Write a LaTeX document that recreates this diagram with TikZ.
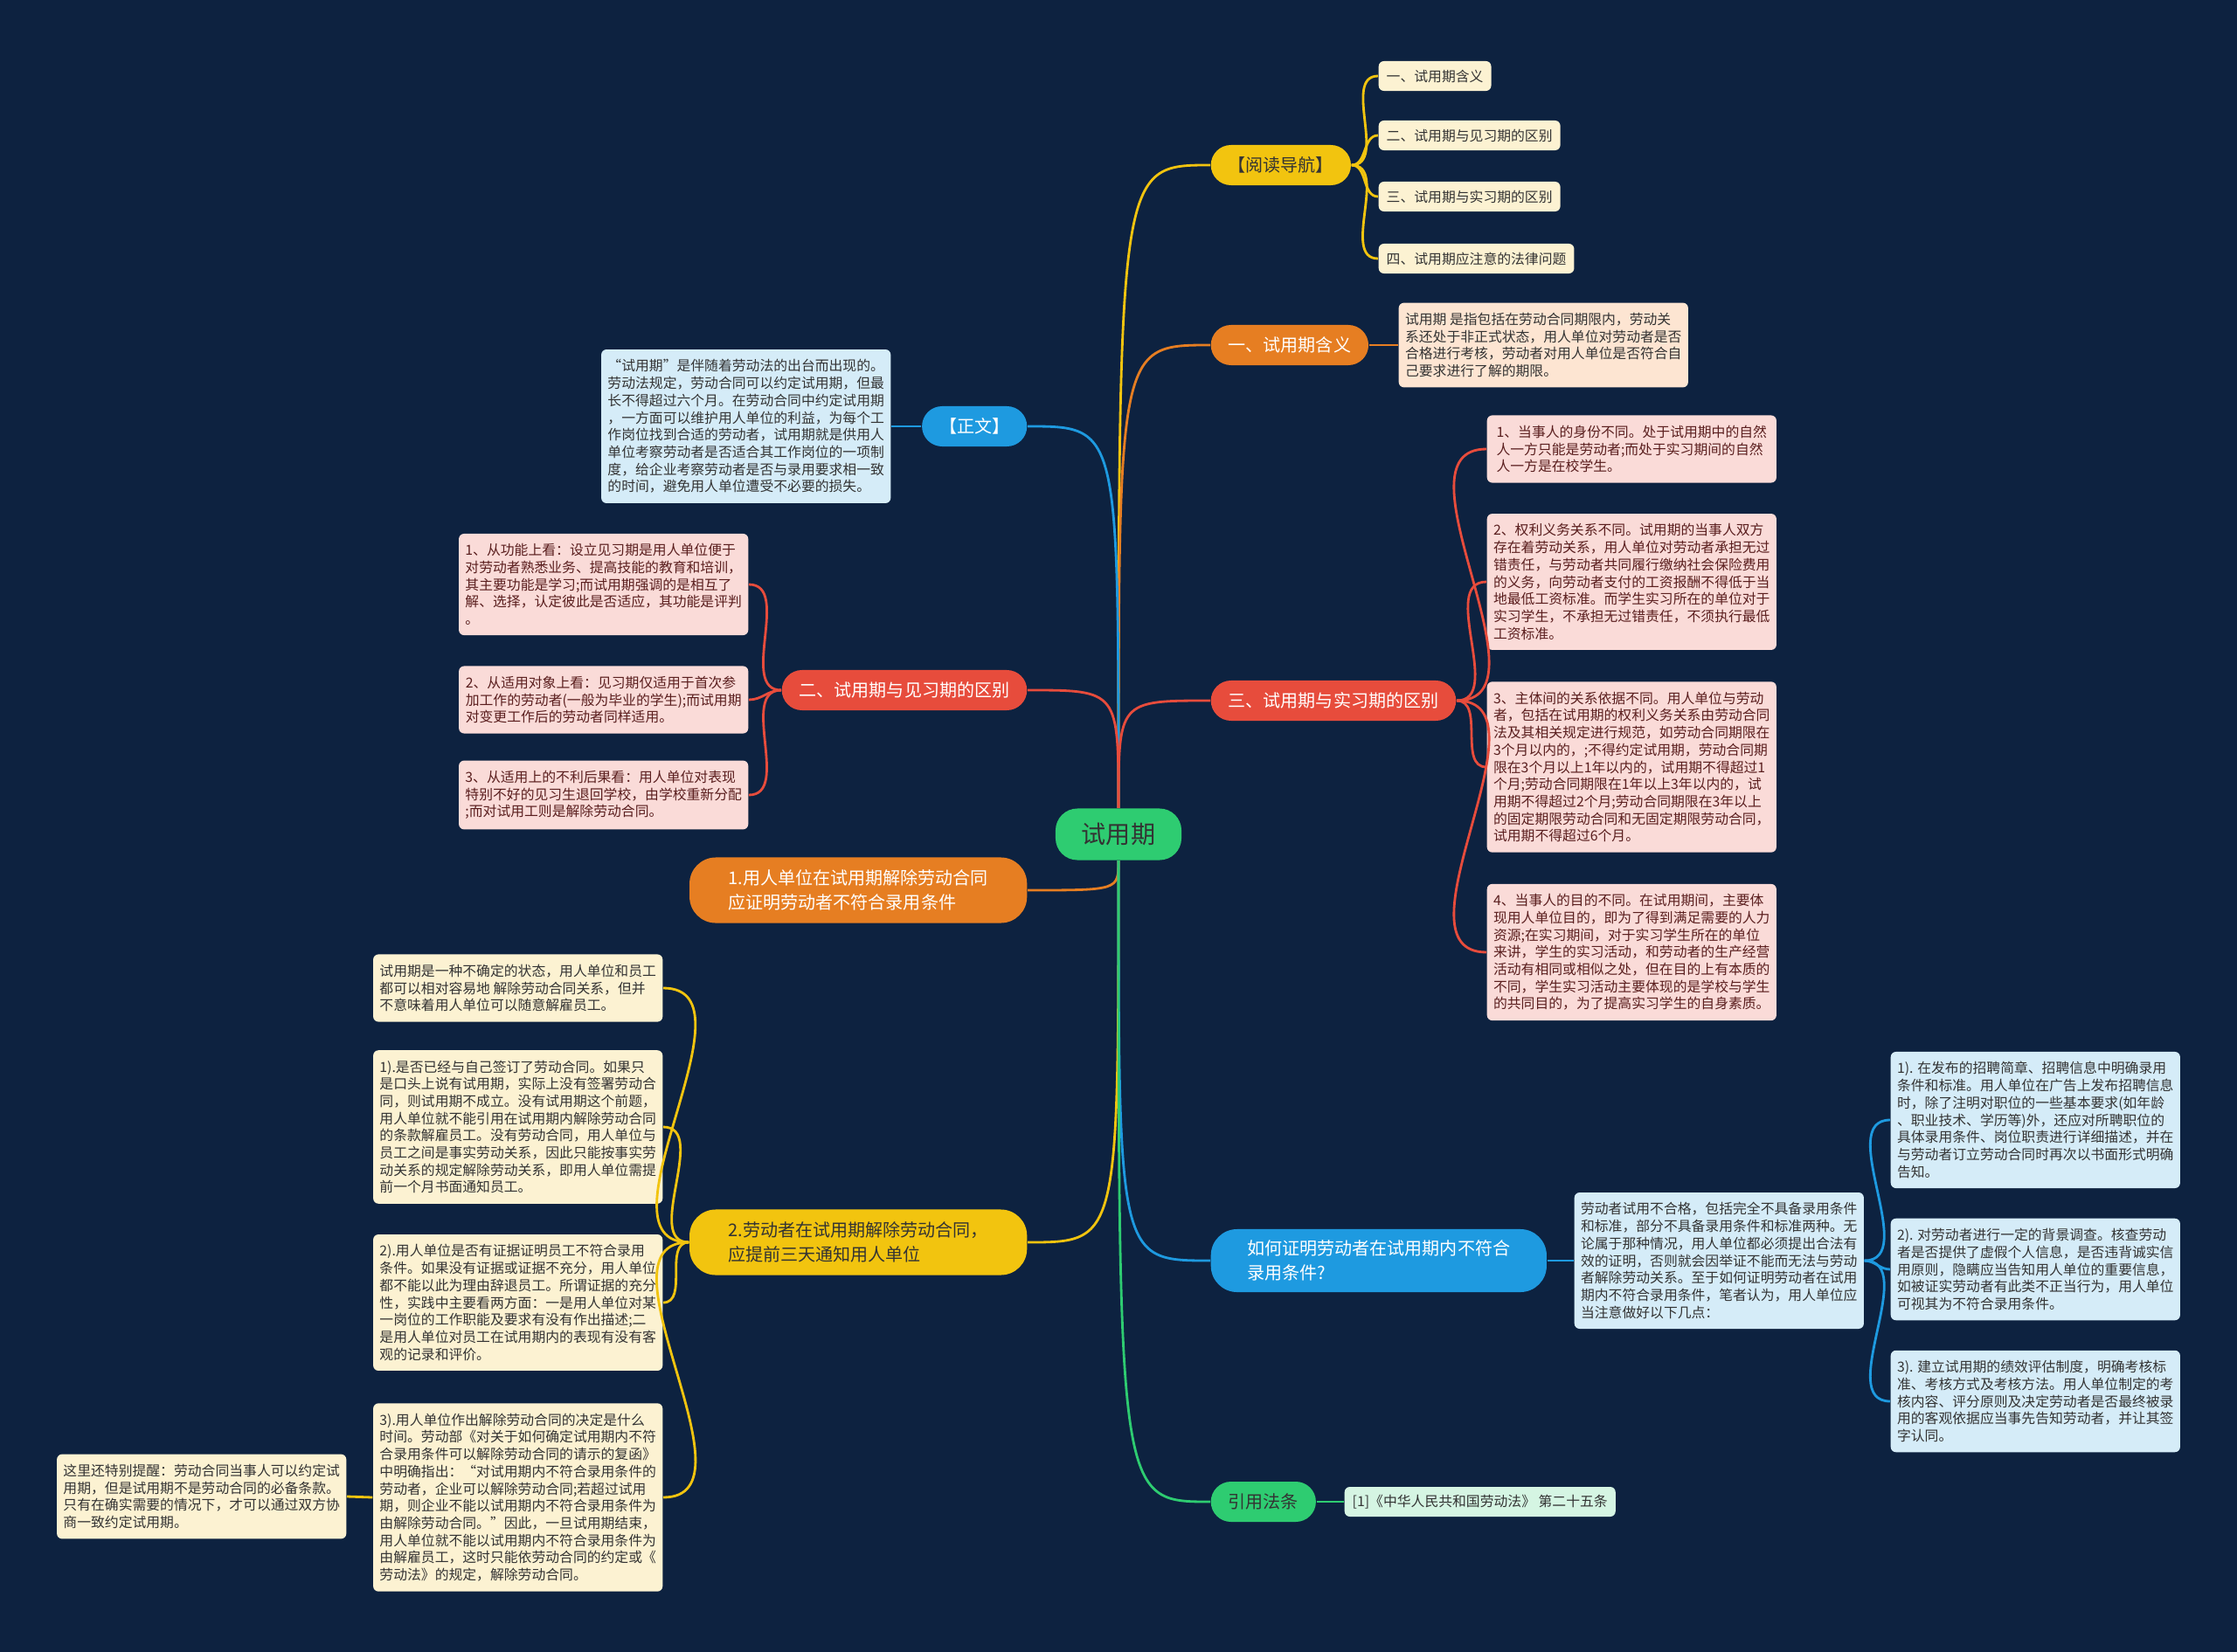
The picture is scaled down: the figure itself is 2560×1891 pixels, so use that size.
\documentclass[tikz,border=0pt]{standalone}
\usepackage{fontspec}
\setmainfont{Noto Sans CJK SC}
\usepackage{tikz}
\usetikzlibrary{calc}

\definecolor{bgnavy}{HTML}{0D2240}
\definecolor{hubgreen}{HTML}{2ECC71}
\definecolor{navyellow}{HTML}{F2C40F}
\definecolor{deforange}{HTML}{E67E22}
\definecolor{zwblue}{HTML}{1E9AE0}
\definecolor{jxred}{HTML}{E74C3C}
\definecolor{creamfill}{HTML}{FCF2D2}
\definecolor{peachfill}{HTML}{FDE5D2}
\definecolor{bluefill}{HTML}{D5ECF8}
\definecolor{pinkfill}{HTML}{FADBD8}
\definecolor{greenfill}{HTML}{D5F5E3}
\definecolor{leafink}{HTML}{333333}
\definecolor{pinkink}{HTML}{5A1E1E}

\newcommand{\leaffont}{\fontsize{4.5pt}{5.6pt}\selectfont}
\newcommand{\branchfont}{\fontsize{5.7pt}{8pt}\selectfont}
\newcommand{\hubfont}{\fontsize{8pt}{10pt}\selectfont}

\begin{document}
\begin{tikzpicture}[
  x=0.01cm, y=-0.01cm,
  hub/.style={fill=hubgreen, rounded corners=0.25cm, minimum width=1.44cm, minimum height=0.59cm, font=\hubfont, text=leafink},
  branch/.style={rounded corners=0.23cm, inner xsep=0.2cm, minimum height=0.46cm, font=\branchfont, text=white},
  twoline/.style={branch, align=left, rounded corners=0.3cm, minimum width=3.86cm, minimum height=0.75cm},
  leaf/.style={rounded corners=0.06cm, inner xsep=0.07cm, inner ysep=0.115cm, align=left, font=\leaffont, text=leafink},
  wide/.style={leaf, minimum width=3.31cm},
  tag/.style={leaf, inner xsep=0.09cm, inner ysep=0.08cm, minimum height=0.34cm},
  edge/.style={line width=0.8pt},
]

% background
\useasboundingbox (0,0) rectangle (2560,1891);
\fill[bgnavy] (0,0) rectangle (2560,1891);

% hub
\node[hub] (hub) at (1280,955) {试用期};

% branches right
\node[branch, fill=navyellow, text=leafink, anchor=west] (read) at (1385,189) {【阅读导航】};
\node[branch, fill=deforange, anchor=west] (def) at (1385,395) {一、试用期含义};
\node[branch, fill=jxred, anchor=west] (sx) at (1385,802) {三、试用期与实习期的区别};
\node[twoline, fill=zwblue, minimum width=3.84cm, minimum height=0.72cm, anchor=west] (how) at (1385,1443) {如何证明劳动者在试用期内不符合\\录用条件?};
\node[branch, fill=hubgreen, text=leafink, anchor=west] (law) at (1385,1719) {引用法条};

% branches left
\node[branch, fill=zwblue, anchor=east] (zw) at (1176,488) {【正文】};
\node[branch, fill=jxred, anchor=east] (jx) at (1176,790) {二、试用期与见习期的区别};
\node[twoline, fill=deforange, anchor=east] (quit) at (1176,1019) {1.用人单位在试用期解除劳动合同\\应证明劳动者不符合录用条件};
\node[twoline, fill=navyellow, text=leafink, anchor=east] (resign) at (1176,1422) {2.劳动者在试用期解除劳动合同，\\应提前三天通知用人单位};

% reading guide
\node[tag, fill=creamfill, anchor=west] (r1) at (1577,87) {一、试用期含义};
\node[tag, fill=creamfill, anchor=west] (r2) at (1577,155) {二、试用期与见习期的区别};
\node[tag, fill=creamfill, anchor=west] (r3) at (1577,225) {三、试用期与实习期的区别};
\node[tag, fill=creamfill, anchor=west] (r4) at (1577,296) {四、试用期应注意的法律问题};

% definition
\node[wide, fill=peachfill, anchor=west] (d1) at (1600,395) {试用期 是指包括在劳动合同期限内，劳动关\\系还处于非正式状态，用人单位对劳动者是否\\合格进行考核，劳动者对用人单位是否符合自\\己要求进行了解的期限。};

% main text
\node[wide, fill=bluefill, anchor=east] (z1) at (1020,488) {“试用期”是伴随着劳动法的出台而出现的。\\劳动法规定，劳动合同可以约定试用期，但最\\长不得超过六个月。在劳动合同中约定试用期\\，一方面可以维护用人单位的利益，为每个工\\作岗位找到合适的劳动者，试用期就是供用人\\单位考察劳动者是否适合其工作岗位的一项制\\度，给企业考察劳动者是否与录用要求相一致\\的时间，避免用人单位遭受不必要的损失。};

% probation vs traineeship
\node[wide, fill=pinkfill, text=pinkink, anchor=east] (j1) at (857,669) {1、从功能上看：设立见习期是用人单位便于\\对劳动者熟悉业务、提高技能的教育和培训，\\其主要功能是学习;而试用期强调的是相互了\\解、选择，认定彼此是否适应，其功能是评判\\。};
\node[wide, fill=pinkfill, text=pinkink, anchor=east] (j2) at (857,801) {2、从适用对象上看：见习期仅适用于首次参\\加工作的劳动者(一般为毕业的学生);而试用期\\对变更工作后的劳动者同样适用。};
\node[wide, fill=pinkfill, text=pinkink, anchor=east] (j3) at (857,910) {3、从适用上的不利后果看：用人单位对表现\\特别不好的见习生退回学校，由学校重新分配\\;而对试用工则是解除劳动合同。};

% probation vs internship
\node[wide, fill=pinkfill, text=pinkink, anchor=west] (s1) at (1701,514) {1、当事人的身份不同。处于试用期中的自然\\人一方只能是劳动者;而处于实习期间的自然\\人一方是在校学生。};
\node[wide, fill=pinkfill, text=pinkink, anchor=west] (s2) at (1701,666) {2、权利义务关系不同。试用期的当事人双方\\存在着劳动关系，用人单位对劳动者承担无过\\错责任，与劳动者共同履行缴纳社会保险费用\\的义务，向劳动者支付的工资报酬不得低于当\\地最低工资标准。而学生实习所在的单位对于\\实习学生，不承担无过错责任，不须执行最低\\工资标准。};
\node[wide, fill=pinkfill, text=pinkink, anchor=west] (s3) at (1701,878) {3、主体间的关系依据不同。用人单位与劳动\\者，包括在试用期的权利义务关系由劳动合同\\法及其相关规定进行规范，如劳动合同期限在\\3个月以内的，;不得约定试用期，劳动合同期\\限在3个月以上1年以内的，试用期不得超过1\\个月;劳动合同期限在1年以上3年以内的，试\\用期不得超过2个月;劳动合同期限在3年以上\\的固定期限劳动合同和无固定期限劳动合同，\\试用期不得超过6个月。};
\node[wide, fill=pinkfill, text=pinkink, anchor=west] (s4) at (1701,1090) {4、当事人的目的不同。在试用期间，主要体\\现用人单位目的，即为了得到满足需要的人力\\资源;在实习期间，对于实习学生所在的单位\\来讲，学生的实习活动，和劳动者的生产经营\\活动有相同或相似之处，但在目的上有本质的\\不同，学生实习活动主要体现的是学校与学生\\的共同目的，为了提高实习学生的自身素质。};

% resignation
\node[wide, fill=creamfill, anchor=east] (e1) at (759,1131) {试用期是一种不确定的状态，用人单位和员工\\都可以相对容易地 解除劳动合同关系，但并\\不意味着用人单位可以随意解雇员工。};
\node[wide, fill=creamfill, anchor=east] (e2) at (759,1290) {1).是否已经与自己签订了劳动合同。如果只\\是口头上说有试用期，实际上没有签署劳动合\\同，则试用期不成立。没有试用期这个前题，\\用人单位就不能引用在试用期内解除劳动合同\\的条款解雇员工。没有劳动合同，用人单位与\\员工之间是事实劳动关系，因此只能按事实劳\\动关系的规定解除劳动关系，即用人单位需提\\前一个月书面通知员工。};
\node[wide, fill=creamfill, anchor=east] (e3) at (759,1491) {2).用人单位是否有证据证明员工不符合录用\\条件。如果没有证据或证据不充分，用人单位\\都不能以此为理由辞退员工。所谓证据的充分\\性，实践中主要看两方面：一是用人单位对某\\一岗位的工作职能及要求有没有作出描述;二\\是用人单位对员工在试用期内的表现有没有客\\观的记录和评价。};
\node[wide, fill=creamfill, anchor=east] (e4) at (759,1714) {3).用人单位作出解除劳动合同的决定是什么\\时间。劳动部《对关于如何确定试用期内不符\\合录用条件可以解除劳动合同的请示的复函》\\中明确指出：“对试用期内不符合录用条件的\\劳动者，企业可以解除劳动合同;若超过试用\\期，则企业不能以试用期内不符合录用条件为\\由解除劳动合同。”因此，一旦试用期结束，\\用人单位就不能以试用期内不符合录用条件为\\由解雇员工，这时只能依劳动合同的约定或《\\劳动法》的规定，解除劳动合同。};
\node[wide, fill=creamfill, anchor=east] (e5) at (397,1713) {这里还特别提醒：劳动合同当事人可以约定试\\用期，但是试用期不是劳动合同的必备条款。\\只有在确实需要的情况下，才可以通过双方协\\商一致约定试用期。};

% how to prove
\node[wide, fill=bluefill, anchor=west] (h0) at (1801,1443) {劳动者试用不合格，包括完全不具备录用条件\\和标准，部分不具备录用条件和标准两种。无\\论属于那种情况，用人单位都必须提出合法有\\效的证明，否则就会因举证不能而无法与劳动\\者解除劳动关系。至于如何证明劳动者在试用\\期内不符合录用条件，笔者认为，用人单位应\\当注意做好以下几点：};
\node[wide, fill=bluefill, anchor=west] (h1) at (2163,1282) {1). 在发布的招聘简章、招聘信息中明确录用\\条件和标准。用人单位在广告上发布招聘信息\\时，除了注明对职位的一些基本要求(如年龄\\、职业技术、学历等)外，还应对所聘职位的\\具体录用条件、岗位职责进行详细描述，并在\\与劳动者订立劳动合同时再次以书面形式明确\\告知。};
\node[wide, fill=bluefill, anchor=west] (h2) at (2163,1453) {2). 对劳动者进行一定的背景调查。核查劳动\\者是否提供了虚假个人信息，是否违背诚实信\\用原则，隐瞒应当告知用人单位的重要信息，\\如被证实劳动者有此类不正当行为，用人单位\\可视其为不符合录用条件。};
\node[wide, fill=bluefill, anchor=west] (h3) at (2163,1604) {3). 建立试用期的绩效评估制度，明确考核标\\准、考核方式及考核方法。用人单位制定的考\\核内容、评分原则及决定劳动者是否最终被录\\用的客观依据应当事先告知劳动者，并让其签\\字认同。};

% law
\node[tag, fill=greenfill, anchor=west] (l1) at (1538,1719) {[1]《中华人民共和国劳动法》 第二十五条};

% hub edges
\draw[edge, navyellow] (hub.north) .. controls (hub.north |- read.west) .. (read.west);
\draw[edge, deforange] (hub.north) .. controls (hub.north |- def.west) .. (def.west);
\draw[edge, zwblue] (hub.north) .. controls (hub.north |- zw.east) .. (zw.east);
\draw[edge, jxred] (hub.north) .. controls (hub.north |- jx.east) .. (jx.east);
\draw[edge, jxred] (hub.north) .. controls (hub.north |- sx.west) .. (sx.west);
\draw[edge, deforange] (hub.south) .. controls (hub.south |- quit.east) .. (quit.east);
\draw[edge, navyellow] (hub.south) .. controls (hub.south |- resign.east) .. (resign.east);
\draw[edge, zwblue] (hub.south) .. controls (hub.south |- how.west) .. (how.west);
\draw[edge, hubgreen] (hub.south) .. controls (hub.south |- law.west) .. (law.west);

% branch edges
\foreach \n in {r1,r2,r3,r4}
  \draw[edge, navyellow] (read.east) to[out=0, in=180] (\n.west);
\draw[edge, deforange] (def.east) -- (d1.west);
\draw[edge, zwblue] (zw.west) -- (z1.east);
\foreach \n in {j1,j2,j3}
  \draw[edge, jxred] (jx.west) to[out=180, in=0] (\n.east);
\foreach \n in {s1,s2,s3,s4}
  \draw[edge, jxred] (sx.east) to[out=0, in=180] (\n.west);
\foreach \n in {e1,e2,e3,e4}
  \draw[edge, navyellow] (resign.west) to[out=180, in=0] (\n.east);
\draw[edge, navyellow] (e4.west) -- (e5.east);
\draw[edge, zwblue] (how.east) -- (h0.west);
\foreach \n in {h1,h2,h3}
  \draw[edge, zwblue] (h0.east) to[out=0, in=180] (\n.west);
\draw[edge, hubgreen] (law.east) -- (l1.west);

\end{tikzpicture}
\end{document}
